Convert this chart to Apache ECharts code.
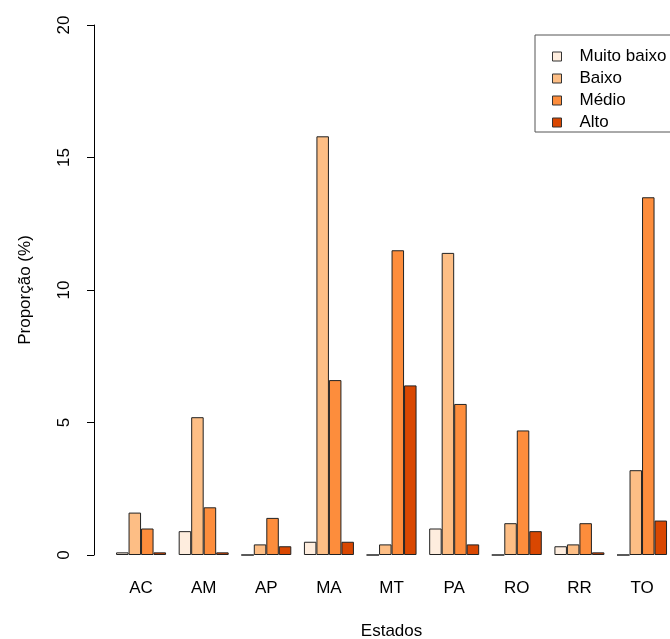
<!DOCTYPE html>
<html>
<head>
<meta charset="utf-8">
<script src="https://cdn.jsdelivr.net/npm/echarts@6/dist/echarts.min.js"></script>
<style>html,body{margin:0;padding:0;background:#fff;}#c{width:670px;height:639px;}</style>
</head>
<body>
<div id="c"></div>
<script>
const categories = ['AC','AM','AP','MA','MT','PA','RO','RR','TO'];
const seriesNames = ['Muito baixo','Baixo','Médio','Alto'];
const muitoBaixo = [0.1, 0.9, 0, 0.5, 0, 1.0, 0, 0.33, 0];
const baixo = [1.6, 5.2, 0.4, 15.8, 0.4, 11.4, 1.2, 0.4, 3.2];
const medio = [1.0, 1.8, 1.4, 6.6, 11.5, 5.7, 4.7, 1.2, 13.5];
const alto = [0.1, 0.1, 0.33, 0.5, 6.4, 0.4, 0.9, 0.1, 1.3];
const yTicks = [0, 5, 10, 15, 20];
const colors = ['#FEEDDE','#FDBE85','#FD8D3C','#D94701'];

const values = [muitoBaixo, baixo, medio, alto];
const FONT = 'Liberation Sans';
const FS = 17;
const chart = echarts.init(document.getElementById('c'), null, {renderer:'canvas'});
chart.setOption({
  backgroundColor: '#fff',
  animation: false,
  textStyle: {fontFamily: FONT},
  grid: {left: 109.75, top: 25, width: 563.6, height: 530, outerBoundsMode: 'none', containLabel: false},
  legend: {
    orient: 'vertical', left: 535, top: 35,
    data: seriesNames,
    itemWidth: 9, itemHeight: 9, itemGap: 5,
    padding: [13, 40, 1, 17],
    borderColor: '#555', borderWidth: 1,
    icon: 'rect',
    itemStyle: {borderColor: '#333', borderWidth: 1},
    textStyle: {fontFamily: FONT, fontSize: FS, color: '#000', lineHeight: 17, padding: [0,0,0,13]}
  },
  xAxis: {
    type: 'category', data: categories,
    axisLine: {show: false}, axisTick: {show: false},
    axisLabel: {fontFamily: FONT, fontSize: FS, color: '#000', margin: 25},
    name: 'Estados', nameLocation: 'middle', nameGap: 68,
    nameTextStyle: {fontFamily: FONT, fontSize: FS, color: '#000'}
  },
  yAxis: {
    type: 'value', min: yTicks[0], max: yTicks[yTicks.length-1], interval: 5,
    offset: 15.75,
    axisLine: {show: true, lineStyle: {color: '#000', width: 1}},
    axisTick: {show: true, length: 7, lineStyle: {color: '#000'}},
    splitLine: {show: false},
    axisLabel: {fontFamily: FONT, fontSize: FS, color: '#000', rotate: 90, margin: 21},
    name: 'Proporção (%)', nameLocation: 'middle', nameGap: 60,
    nameTextStyle: {fontFamily: FONT, fontSize: FS, color: '#000'}
  },
  series: seriesNames.map((n, i) => ({
    name: n, type: 'bar', data: values[i],
    barWidth: 12.5, barGap: '0%',
    itemStyle: {color: colors[i], borderColor: '#222', borderWidth: 1}
  }))
});
</script>
</body>
</html>
